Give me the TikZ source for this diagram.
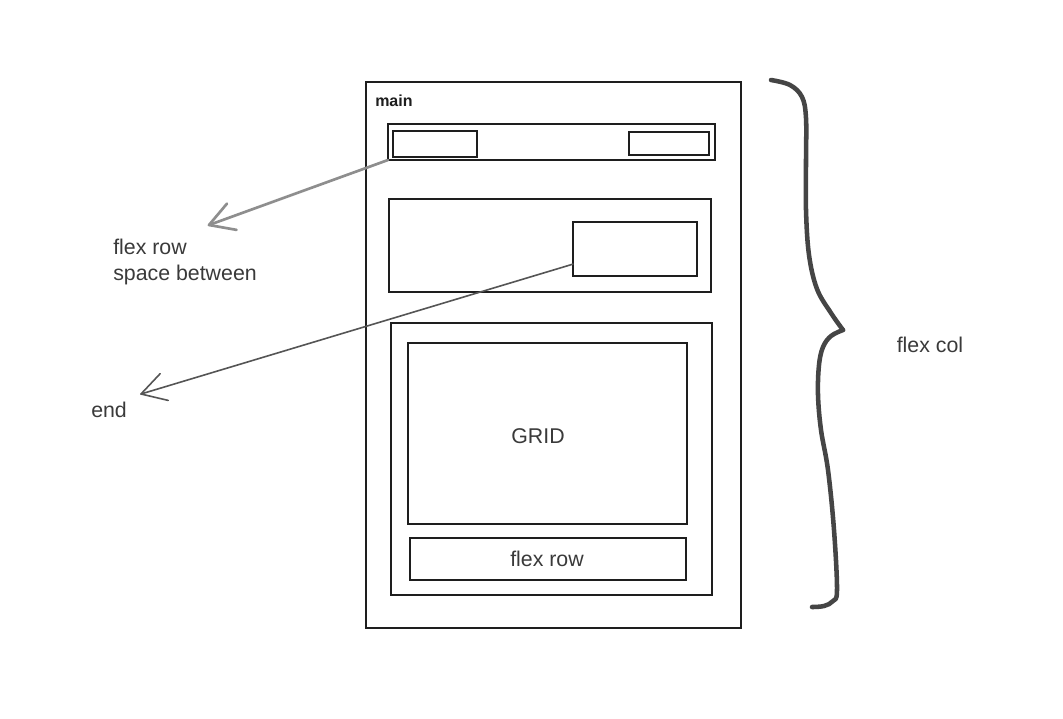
\documentclass[tikz,border=0pt]{standalone}
\usepackage{fontspec}
\setmainfont{Liberation Sans}
\usetikzlibrary{fit,calc}
\definecolor{ink}{HTML}{1E1E1E}
\definecolor{txt}{HTML}{3A3A3A}
\definecolor{arrA}{HTML}{8E8E8E}
\definecolor{arrB}{HTML}{555555}
\definecolor{bracec}{HTML}{454545}
\tikzset{
  box/.style={draw=ink, line width=1pt, inner sep=0pt, outer sep=0pt, rectangle},
  lbl/.style={text=txt, font=\fontsize{16}{19}\selectfont, inner sep=0pt},
  mainlbl/.style={text=ink, font=\bfseries\fontsize{12}{14}\selectfont, inner sep=0pt, anchor=west},
  arrowA/.style={draw=arrA, line width=2pt, line cap=round, line join=round},
  arrowB/.style={draw=arrB, line width=1.2pt, line cap=round, line join=round},
  bracestyle/.style={draw=bracec, line width=3.4pt, line cap=round, line join=round}
}
\begin{document}
\begin{tikzpicture}[x=0.75pt,y=-0.75pt]
\useasboundingbox[fill=white] (0,0) rectangle (1063,718);

% outer main container
\coordinate (m1) at (366,82); \coordinate (m2) at (741,628);
\node[box, fit=(m1)(m2)] (main) {};
\node[mainlbl] (mainname) at (375,101) {main};

% top flex row
\coordinate (t1) at (388,124); \coordinate (t2) at (715,160);
\node[box, fit=(t1)(t2)] (topbar) {};
\coordinate (tl1) at (393,131); \coordinate (tl2) at (477,157);
\node[box, fit=(tl1)(tl2)] (topleft) {};
\coordinate (tr1) at (629,132); \coordinate (tr2) at (709,155);
\node[box, fit=(tr1)(tr2)] (topright) {};

% middle row
\coordinate (mid1) at (389,199); \coordinate (mid2) at (711,292);
\node[box, fit=(mid1)(mid2)] (middle) {};
\coordinate (in1) at (573,222); \coordinate (in2) at (697,276);
\node[box, fit=(in1)(in2)] (inner) {};

% bottom container
\coordinate (b1) at (391,323); \coordinate (b2) at (712,595);
\node[box, fit=(b1)(b2)] (bottom) {};
\coordinate (g1) at (408,343); \coordinate (g2) at (687,524);
\node[box, fit=(g1)(g2)] (grid) {};
\node[lbl] (gridtxt) at (538,436) {GRID};
\coordinate (f1) at (410,538); \coordinate (f2) at (686,580);
\node[box, fit=(f1)(f2)] (flexrow) {};
\node[lbl] (flexrowtxt) at (547,559) {flex row};

% annotation labels
\node[lbl, anchor=north west, align=left] (lblA) at (113,239) {flex row\\space between};
\node[lbl, anchor=north west] (lblB) at (91,402) {end};
\node[lbl] (lblC) at (930,345) {flex col};

% arrow A
\coordinate (tipA) at (209,225);
\coordinate (startA) at (topbar.south west);
\draw[arrowA] (startA) -- (tipA);
\draw[arrowA] ($(tipA)!21pt!30:(startA)$) -- (tipA) -- ($(tipA)!21pt!-30:(startA)$);

% arrow B
\coordinate (tipB) at (141,394);
\coordinate (startB) at ($(inner.south west)!0.22!(inner.north west)$);
\draw[arrowB] (startB) -- (tipB);
\draw[arrowB] ($(tipB)!21pt!30:(startB)$) -- (tipB) -- ($(tipB)!21pt!-30:(startB)$);

% brace
\coordinate (braceTip) at (843,330);
\draw[bracestyle] plot[smooth, tension=0.6] coordinates {(771,80) (790,85) (802,97) (806,118) (806,160) (806,210) (809,255) (817,289) (831,313) (843,330)};
\draw[bracestyle] plot[smooth, tension=0.6] coordinates {(843,330) (831,336) (823,347) (819,365) (818,395) (821,430) (828,470) (834,530) (837,590) (833,601) (824,606) (812,607)};
\end{tikzpicture}
\end{document}
